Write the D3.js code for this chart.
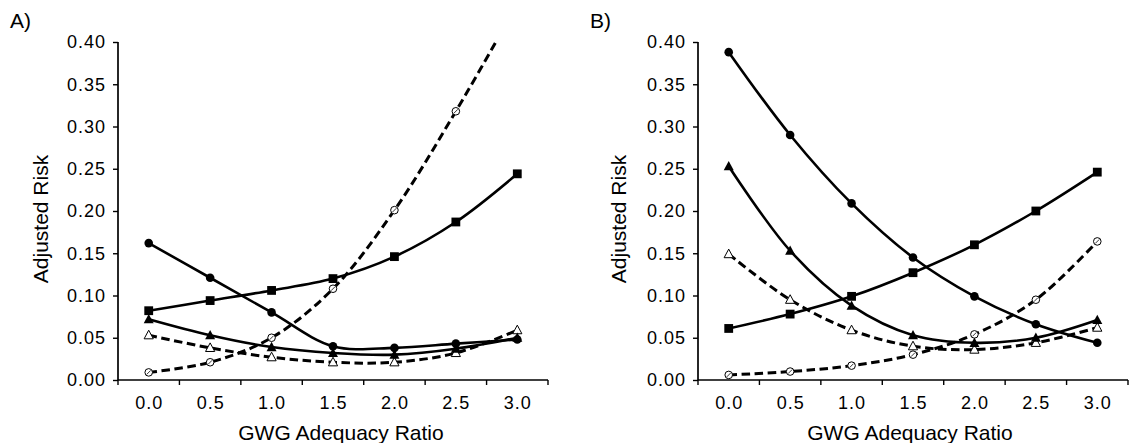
<!DOCTYPE html>
<html>
<head>
<meta charset="utf-8">
<script src="https://cdn.jsdelivr.net/npm/d3@7"></script>
<style>
  body { margin: 0; background: #fff; }
  svg text { font-family: "Liberation Sans", Arial, sans-serif; fill: #000; }
</style>
</head>
<body>
<script>
// categories on the x axis
var ratios = ["0.0", "0.5", "1.0", "1.5", "2.0", "2.5", "3.0"];
var yTicks = [0, 0.05, 0.10, 0.15, 0.20, 0.25, 0.30, 0.35, 0.40];

// panel A
var aCircle     = [0.162, 0.121, 0.080, 0.040, 0.038, 0.043, 0.048];
var aSquare     = [0.082, 0.094, 0.106, 0.120, 0.146, 0.187, 0.244];
var aTriangle   = [0.072, 0.053, 0.039, 0.032, 0.030, 0.037, 0.050];
var aOpenTri    = [0.053, 0.038, 0.027, 0.021, 0.021, 0.032, 0.059];
var aOpenCircle = [0.009, 0.021, 0.050, 0.108, 0.201, 0.318, 0.445];

// panel B
var bCircle     = [0.388, 0.290, 0.209, 0.145, 0.099, 0.066, 0.044];
var bSquare     = [0.061, 0.078, 0.099, 0.127, 0.160, 0.200, 0.246];
var bTriangle   = [0.253, 0.153, 0.088, 0.053, 0.044, 0.050, 0.071];
var bOpenTri    = [0.149, 0.095, 0.059, 0.040, 0.036, 0.044, 0.062];
var bOpenCircle = [0.006, 0.010, 0.017, 0.030, 0.054, 0.095, 0.164];

var panels = [
  { label: "A)", left: 118, labelX: 10, yLabelX: 48, xLabelX: 341,
    series: [
      { values: aOpenCircle, dashed: true,  marker: "openCircle" },
      { values: aOpenTri,    dashed: true,  marker: "openTri" },
      { values: aTriangle,   dashed: false, marker: "tri" },
      { values: aSquare,     dashed: false, marker: "square" },
      { values: aCircle,     dashed: false, marker: "circle" }
    ] },
  { label: "B)", left: 698, labelX: 590, yLabelX: 626, xLabelX: 910,
    series: [
      { values: bOpenCircle, dashed: true,  marker: "openCircle" },
      { values: bOpenTri,    dashed: true,  marker: "openTri" },
      { values: bTriangle,   dashed: false, marker: "tri" },
      { values: bSquare,     dashed: false, marker: "square" },
      { values: bCircle,     dashed: false, marker: "circle" }
    ] }
];

var width = 1130, height = 443;
var plotW = 430, plotTop = 42, plotBottom = 380;

var svg = d3.select("body").append("svg")
  .attr("width", width)
  .attr("height", height);

var y = d3.scaleLinear().domain([0, 0.40]).range([plotBottom, plotTop]);

panels.forEach(function(p, pi) {
  var x = d3.scaleBand().domain(ratios).range([p.left, p.left + plotW]);
  var cx = function(i) { return x(ratios[i]) + x.bandwidth() / 2; };
  var g = svg.append("g");

  // panel letter
  g.append("text")
    .attr("x", p.labelX).attr("y", 28)
    .style("font-size", "21px")
    .text(p.label);

  // y axis
  var yAxis = d3.axisLeft(y).tickValues(yTicks).tickSize(5).tickPadding(7)
    .tickFormat(d3.format(".2f"));
  var ya = g.append("g").attr("transform", "translate(" + p.left + ",0)").call(yAxis);
  ya.select(".domain").attr("d", "M0," + plotTop + "V" + plotBottom).attr("stroke-width", 1.7);
  ya.selectAll(".tick line").attr("stroke-width", 1.4);
  ya.selectAll("text").style("font-size", "18px").style("letter-spacing", "1px");

  // x axis: labels at band centres, tick marks at band edges
  var xAxis = d3.axisBottom(x).tickSize(0).tickPadding(16);
  var xa = g.append("g").attr("transform", "translate(0," + plotBottom + ")").call(xAxis);
  xa.select(".domain").attr("d", "M" + p.left + ",0H" + (p.left + plotW)).attr("stroke-width", 1.7);
  xa.selectAll("text").style("font-size", "18px").style("letter-spacing", "1px")
    .attr("dx", "0.5px");
  var edges = ratios.map(function(r) { return x(r); }).concat([p.left + plotW]);
  xa.selectAll(".edge").data(edges).enter().append("line")
    .attr("x1", function(d) { return d; }).attr("x2", function(d) { return d; })
    .attr("y1", 0).attr("y2", 5)
    .attr("stroke", "#000").attr("stroke-width", 1.4);

  // axis titles
  g.append("text")
    .attr("x", p.xLabelX).attr("y", 440)
    .attr("text-anchor", "middle")
    .style("font-size", "21px")
    .text("GWG Adequacy Ratio");
  g.append("text")
    .attr("transform", "translate(" + p.yLabelX + ",219) rotate(-90)")
    .attr("text-anchor", "middle")
    .style("font-size", "21px")
    .text("Adjusted Risk");

  // clip the plot area
  var clipId = "clip" + pi;
  svg.append("clipPath").attr("id", clipId).append("rect")
    .attr("x", p.left).attr("y", plotTop).attr("width", plotW + 5).attr("height", plotBottom - plotTop + 5);

  var plot = g.append("g").attr("clip-path", "url(#" + clipId + ")");

  var line = d3.line()
    .x(function(d, i) { return cx(i); })
    .y(function(d) { return y(d); })
    .curve(d3.curveCatmullRom.alpha(0.5));

  p.series.forEach(function(s) {
    plot.append("path")
      .attr("d", line(s.values))
      .attr("fill", "none")
      .attr("stroke", "#000")
      .attr("stroke-width", s.dashed ? 3 : 2.6)
      .attr("stroke-dasharray", s.dashed ? "8.5,4.5" : null);

    var m = plot.selectAll(".m").data(s.values).enter().append("g")
      .attr("transform", function(d, i) { return "translate(" + cx(i) + "," + y(d) + ")"; });

    if (s.marker === "circle") {
      m.append("circle").attr("r", 4.3).attr("fill", "#000");
    } else if (s.marker === "square") {
      m.append("rect").attr("x", -4.4).attr("y", -4.4).attr("width", 8.8).attr("height", 8.8).attr("fill", "#000");
    } else if (s.marker === "tri") {
      m.append("path").attr("d", "M0,-5.2L5,4.1L-5,4.1Z").attr("fill", "#000");
    } else if (s.marker === "openTri") {
      m.append("path").attr("d", "M0,-5L4.6,3.6L-4.6,3.6Z")
        .attr("fill", "#fff").attr("stroke", "#000").attr("stroke-width", 1);
    } else {
      m.append("circle").attr("r", 3.8)
        .attr("fill", "#fff").attr("stroke", "#000").attr("stroke-width", 1);
      m.append("line").attr("x1", -2).attr("y1", 2).attr("x2", 2).attr("y2", -2)
        .attr("stroke", "#000").attr("stroke-width", 0.8);
    }
  });
});
</script>
</body>
</html>
